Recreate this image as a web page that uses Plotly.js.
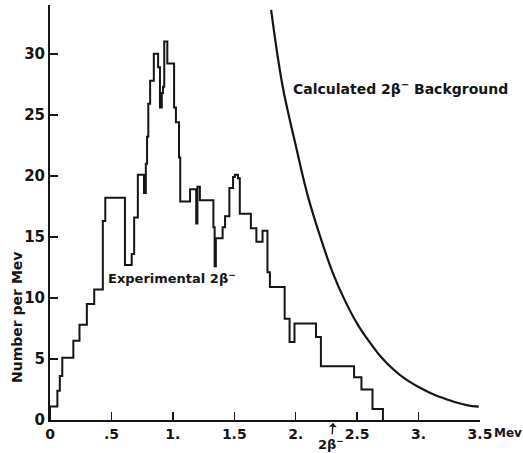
<!DOCTYPE html>
<html>
<head>
<meta charset="utf-8">
<script src="https://cdn.plot.ly/plotly-3.0.1.min.js"></script>
<style>
html,body{margin:0;padding:0;background:#fff;}
#chart{width:523px;height:453px;}
</style>
</head>
<body>
<div id="chart"></div>
<script>
// Experimental 2β⁻ histogram: bin edges (MeV) and heights (number per MeV)
var binEdges = [0, 0.06, 0.08, 0.10, 0.19, 0.24, 0.30, 0.36, 0.43, 0.45, 0.61, 0.665, 0.685,
  0.715, 0.765, 0.78, 0.79, 0.80, 0.815, 0.845, 0.88, 0.895, 0.91, 0.92, 0.93, 0.955,
  1.01, 1.025, 1.05, 1.06, 1.14, 1.19, 1.20, 1.22, 1.33, 1.34, 1.35, 1.405, 1.425,
  1.46, 1.49, 1.505, 1.53, 1.545, 1.635, 1.68, 1.73, 1.77, 1.79, 1.91, 1.95, 1.99,
  2.165, 2.205, 2.475, 2.535, 2.625, 2.71];
var counts = [1.1, 2.4, 3.6, 5.1, 6.5, 7.8, 9.5, 10.7, 16.3, 18.2, 12.7, 13.6,
  16.6, 20.1, 18.6, 21.0, 23.2, 25.9, 27.8, 30.0, 28.9, 25.6, 26.8, 27.3, 31.0,
  29.2, 25.6, 24.4, 21.5, 17.9, 18.9, 16.1, 19.1, 18.0, 15.8, 12.6, 14.9, 15.8,
  16.7, 19.0, 19.9, 20.1, 19.8, 16.9, 15.7, 14.6, 15.5, 12.1, 10.9, 8.3, 6.4,
  7.9, 6.8, 4.4, 3.5, 2.5, 0.9];

// Calculated 2β⁻ background curve
var bgEnergy = [1.80, 1.85, 1.90, 2.00, 2.10, 2.20, 2.30, 2.40, 2.50, 2.60, 2.70,
  2.80, 2.90, 3.00, 3.10, 3.20, 3.30, 3.40, 3.49];
var bgValue = [33.6, 30.0, 27.0, 22.5, 18.3, 15.0, 12.1, 9.8, 7.9, 6.4, 5.1,
  4.1, 3.3, 2.7, 2.2, 1.8, 1.45, 1.2, 1.1];

// Axis ticks
var xTickVals = [0, 0.5, 1, 1.5, 2, 2.5, 3, 3.5];
var xTickText = ["0", ".5", "1.", "1.5", "2.", "2.5", "3.", "3.5"];
var yTickVals = [0, 5, 10, 15, 20, 25, 30];
var yTickText = ["0", "5", "10", "15", "20", "25", "30"];

var hx = [binEdges[0]], hy = [0];
for (var i = 0; i < counts.length; i++) { hx.push(binEdges[i]); hy.push(counts[i]); }
hx.push(binEdges[binEdges.length - 1]); hy.push(0);

var ink = "#151515";
var fnt = "DejaVu Sans, sans-serif";

var traces = [
  {x: hx, y: hy, mode: "lines", line: {shape: "hv", color: ink, width: 2}, hoverinfo: "skip"},
  {x: bgEnergy, y: bgValue, mode: "lines", line: {shape: "spline", color: ink, width: 2.2}, hoverinfo: "skip"}
];

var layout = {
  width: 523, height: 453,
  margin: {l: 50, r: 43, t: 5, b: 33},
  paper_bgcolor: "#fff", plot_bgcolor: "#fff",
  showlegend: false,
  font: {family: fnt, color: ink, size: 14, weight: "bold"},
  xaxis: {
    range: [0, 3.5], showgrid: false, zeroline: false,
    showline: true, linecolor: ink, linewidth: 2,
    ticks: "inside", ticklen: 8, tickwidth: 1.5, tickcolor: ink,
    tickvals: xTickVals, ticktext: xTickText,
    tickfont: {family: fnt, size: 14, color: ink, weight: "bold"}
  },
  yaxis: {
    range: [0, 34], showgrid: false, zeroline: false,
    showline: true, linecolor: ink, linewidth: 2,
    ticks: "inside", ticklen: 8, tickwidth: 1.5, tickcolor: ink,
    tickvals: yTickVals, ticktext: yTickText,
    tickfont: {family: fnt, size: 15, color: ink, weight: "bold"}
  },
  annotations: [
    {xref: "x", yref: "y", x: 1.96, y: 27.2, xanchor: "left", yanchor: "middle",
     text: "Calculated 2β<sup>−</sup> Background", showarrow: false,
     font: {family: fnt, size: 14, color: ink, weight: "bold"}},
    {xref: "x", yref: "y", x: 0.455, y: 11.6, xanchor: "left", yanchor: "middle",
     text: "Experimental 2β<sup>−</sup>", showarrow: false,
     font: {family: fnt, size: 13, color: ink, weight: "bold"}},
    {xref: "paper", yref: "paper", x: -0.077, y: 0.248, xanchor: "center", yanchor: "middle",
     text: "Number per Mev", textangle: -90, showarrow: false,
     font: {family: fnt, size: 14, color: ink, weight: "bold"}},
    {xref: "paper", yref: "paper", x: 1.028, y: -0.031, xanchor: "left", yanchor: "middle",
     text: "Mev", showarrow: false, font: {family: fnt, size: 12, color: ink, weight: "bold"}},
    {xref: "paper", yref: "paper", x: 2.305 / 3.5, y: -0.007, text: "2β<sup>−</sup>", showarrow: true,
     arrowhead: 1, arrowsize: 1, arrowwidth: 1.3, arrowcolor: ink, ax: -2, ay: 21,
     font: {family: fnt, size: 13, color: ink, weight: "bold"}}
  ]
};

Plotly.newPlot("chart", traces, layout, {staticPlot: true, displayModeBar: false});
</script>
</body>
</html>
